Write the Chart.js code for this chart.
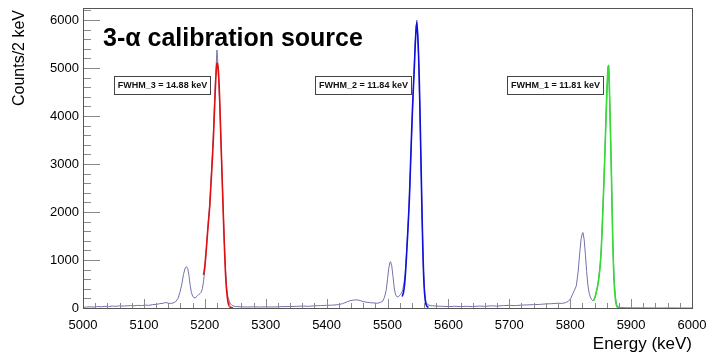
<!DOCTYPE html>
<html><head><meta charset="utf-8">
<script src="https://cdn.jsdelivr.net/npm/chart.js@4.4.0/dist/chart.umd.min.js"></script>
<style>html,body{margin:0;padding:0;background:#fff}#c{display:block}</style>
</head><body>
<canvas id="c" width="709" height="353"></canvas>
<script>
// ---- data ----
const histEnergy = [5000,5006,5012,5018,5024,5030,5036,5042,5048,5054,5060,5066,5072,5078,5084,5090,5096,5102,5108,5114,5120,5126,5132,5136,5140,5144,5148,5152,5156,5159,5162,5165,5168,5170,5172,5174,5176,5178,5180,5182,5184,5186,5188,5190,5192,5194,5196,5198,5200,5202,5204,5206,5208,5210,5212,5214,5216,5218,5220,5221,5222,5224,5226,5228,5230,5232,5234,5236,5238,5240,5242,5245,5250,5260,5270,5280,5290,5300,5310,5320,5330,5340,5350,5360,5370,5380,5390,5400,5410,5420,5426,5432,5438,5444,5450,5455,5460,5466,5472,5478,5484,5488,5492,5495,5498,5500,5502,5504,5505,5507,5509,5511,5513,5515,5517,5519,5521,5523,5525,5527,5529,5531,5533,5535,5537,5539,5541,5543,5545,5547,5548,5549,5551,5553,5555,5557,5559,5561,5563,5566,5570,5580,5590,5600,5610,5620,5630,5640,5650,5660,5670,5680,5690,5700,5710,5720,5730,5740,5750,5760,5770,5780,5786,5792,5797,5801,5804,5807,5810,5813,5816,5818,5820,5821,5823,5825,5827,5829,5831,5833,5835,5837,5839,5841,5843,5845,5847,5849,5851,5853,5855,5857,5859,5861,5862,5863,5864,5866,5868,5870,5872,5874,5876,5878,5882,5890,5900,5920,5940,5960,5980,6000];
const histCounts = [15,20,25,20,30,25,35,30,40,35,45,40,45,50,45,55,50,60,55,70,75,90,100,115,100,95,105,130,200,320,480,700,840,860,820,680,470,320,250,215,210,230,260,280,300,330,400,560,800,1150,1500,1850,2150,2600,3100,3600,4300,4900,5375,5200,4900,4400,3700,2900,2150,1400,800,400,230,150,90,50,30,25,20,25,20,25,20,25,30,30,35,40,35,45,50,55,60,70,90,120,150,165,170,155,135,120,110,105,100,115,140,220,380,600,820,950,965,880,660,420,290,240,230,250,275,310,380,520,700,1100,1550,2050,2700,3400,4100,4750,5400,5900,6000,5850,5250,4200,3000,1800,800,350,130,70,50,40,35,30,35,30,35,30,40,35,45,40,50,55,50,60,65,70,75,85,90,100,95,110,140,200,290,370,460,750,1200,1450,1560,1570,1420,1100,760,480,320,230,180,150,165,230,330,450,650,870,1220,1850,2500,3250,4000,4700,5000,5050,4700,3700,2600,1350,620,260,80,25,10,5,3,2,0,1,0,0];

const fit3Energy = [5198,5200,5202,5204,5206,5208,5210,5212,5214,5216,5218,5220,5222,5224,5226,5228,5230,5232,5234,5236,5238,5240,5243,5246];
const fit3Counts = [690,870,1150,1480,1800,2100,2550,3000,3500,4150,4750,5100,5000,4500,3700,2900,2100,1350,720,340,130,45,10,2];
const fit2Energy = [5524,5526,5528,5530,5532,5534,5536,5538,5540,5542,5544,5546,5548,5550,5552,5554,5556,5558,5560,5562,5564,5567];
const fit2Counts = [240,310,480,820,1270,1750,2300,3050,3800,4450,5000,5600,5950,5600,4850,3700,2400,1250,480,160,50,10];
const fit1Energy = [5838,5840,5842,5844,5846,5848,5850,5852,5854,5856,5858,5860,5862,5863,5864,5866,5868,5870,5872,5874,5876,5878,5880];
const fit1Counts = [150,200,290,400,520,720,1000,1500,2150,2850,3650,4450,5000,5050,4750,3750,2600,1350,560,200,50,10,2];

const xTickValues = [5000,5100,5200,5300,5400,5500,5600,5700,5800,5900,6000];
const yTickValues = [0,1000,2000,3000,4000,5000,6000];
const fwhmLabels = ["FWHM_3 = 14.88 keV","FWHM_2 = 11.84 keV","FWHM_1 = 11.81 keV"];
const fwhmBoxLeft = [114,315,507];
const titleText = "3-\u03b1 calibration source";
const xTitle = "Energy (keV)";
const yTitle = "Counts/2 keV";

const toXY = (xs, ys) => xs.map((x, i) => ({x: x, y: ys[i]}));
const FONT = "'Liberation Sans', Arial, Helvetica, sans-serif";

const decor = {
  id: 'decor',
  afterDatasetsDraw(chart) {
    const ctx = chart.ctx, a = chart.chartArea;
    const xs = chart.scales.x, ys = chart.scales.y;
    ctx.save();
    // inward ticks
    ctx.strokeStyle = '#8a8a8a';
    ctx.lineWidth = 1;
    ctx.beginPath();
    for (let v = 5000; v <= 6000; v += 20) {
      const px = Math.round(xs.getPixelForValue(v)) + 0.5;
      const len = (v % 100 === 0) ? 9 : 5;
      ctx.moveTo(px, a.bottom); ctx.lineTo(px, a.bottom - len);
    }
    for (let v = 0; v <= 6200; v += 200) {
      const py = Math.round(ys.getPixelForValue(v)) + 0.5;
      const len = (v % 1000 === 0) ? 17 : 8;
      ctx.moveTo(a.left, py); ctx.lineTo(a.left + len, py);
    }
    ctx.stroke();
    // frame
    ctx.strokeStyle = '#555';
    ctx.strokeRect(Math.round(a.left) + 0.5, Math.round(a.top) + 0.5, Math.round(a.right - a.left), Math.round(a.bottom - a.top));
    // title
    ctx.fillStyle = '#000';
    ctx.font = 'bold 25px ' + FONT;
    ctx.textBaseline = 'alphabetic';
    ctx.textAlign = 'left';
    ctx.fillText(titleText, 103, 46);
    // FWHM boxes
    ctx.font = 'bold 9px ' + FONT;
    ctx.textAlign = 'center';
    ctx.textBaseline = 'middle';
    for (let i = 0; i < fwhmLabels.length; i++) {
      const bx = fwhmBoxLeft[i], by = 76, bw = 96, bh = 18;
      ctx.fillStyle = '#fff';
      ctx.fillRect(bx, by, bw, bh);
      ctx.strokeStyle = '#444';
      ctx.strokeRect(bx + 0.5, by + 0.5, bw, bh);
      ctx.fillStyle = '#111';
      ctx.fillText(fwhmLabels[i], bx + bw / 2 + 0.5, by + bh / 2 + 1);
    }
    // axis titles
    ctx.font = '17px ' + FONT;
    ctx.textAlign = 'right';
    ctx.textBaseline = 'alphabetic';
    ctx.fillStyle = '#000';
    ctx.fillText(xTitle, a.right, 349);
    ctx.save();
    ctx.translate(24, 10);
    ctx.rotate(-Math.PI / 2);
    ctx.font = '16px ' + FONT;
    ctx.textAlign = 'right';
    ctx.fillText(yTitle, 0, 0);
    ctx.restore();
    ctx.restore();
  }
};

new Chart(document.getElementById('c'), {
  type: 'line',
  data: {
    datasets: [
      {label: 'fit3', data: toXY(fit3Energy, fit3Counts), borderColor: '#e01010', borderWidth: 1.6, pointRadius: 0, tension: 0.3, order: 0},
      {label: 'fit2', data: toXY(fit2Energy, fit2Counts), borderColor: '#1010dd', borderWidth: 1.6, pointRadius: 0, tension: 0.3, order: 0},
      {label: 'fit1', data: toXY(fit1Energy, fit1Counts), borderColor: '#33dd33', borderWidth: 1.6, pointRadius: 0, tension: 0.3, order: 0},
      {label: 'hist', data: toXY(histEnergy, histCounts), borderColor: '#7373aa', borderWidth: 1, pointRadius: 0, tension: 0, order: 1}
    ]
  },
  options: {
    responsive: false,
    animation: false,
    devicePixelRatio: 1,
    layout: {padding: {left: 0, right: 17, top: 8, bottom: 0}},
    plugins: {legend: {display: false}, tooltip: {enabled: false}},
    scales: {
      x: {
        type: 'linear', min: 5000, max: 6000,
        afterFit: s => { s.height = 45; s.paddingLeft = 0; s.paddingRight = 0; },
        afterBuildTicks: s => { s.ticks = xTickValues.map(v => ({value: v})); },
        grid: {display: false, drawTicks: false},
        border: {display: false},
        ticks: {padding: 10, color: '#000', maxRotation: 0, autoSkip: false, font: {family: FONT, size: 13}, callback: v => String(v)}
      },
      y: {
        type: 'linear', min: 0, max: 6250,
        afterFit: s => { s.width = 83; s.paddingTop = 0; s.paddingBottom = 0; },
        afterBuildTicks: s => { s.ticks = yTickValues.map(v => ({value: v})); },
        grid: {display: false, drawTicks: false},
        border: {display: false},
        ticks: {padding: 4, color: '#000', autoSkip: false, font: {family: FONT, size: 13}, callback: v => String(v)}
      }
    }
  },
  plugins: [decor]
});
</script>
</body></html>
